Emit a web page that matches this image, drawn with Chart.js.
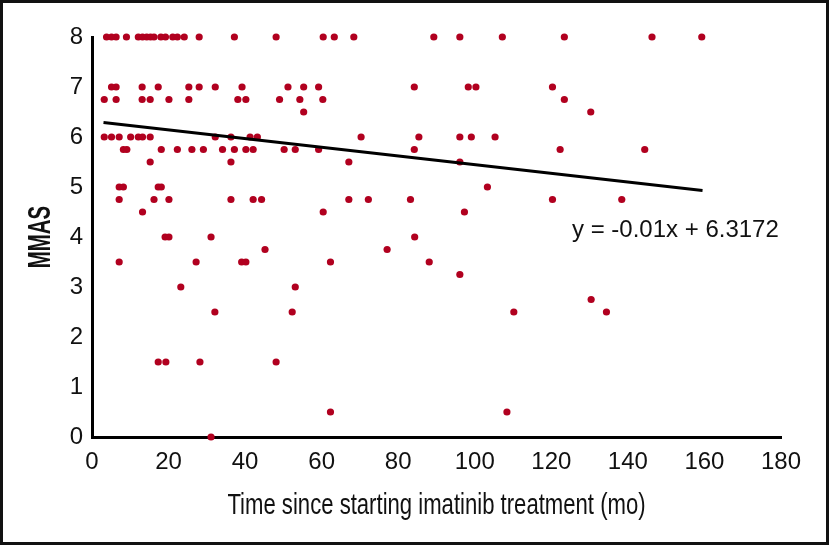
<!DOCTYPE html>
<html>
<head>
<meta charset="utf-8">
<script src="https://cdn.jsdelivr.net/npm/chart.js@4"></script>
<style>
  html, body { margin: 0; padding: 0; background: #fff; }
  #frame {
    position: absolute; left: 0; top: 0;
    width: 829px; height: 545px;
    box-sizing: border-box;
    border: 3px solid #111;
    background: #fff;
  }
  #chart { display: block; }
</style>
</head>
<body>
<div id="frame">
  <canvas id="chart" width="823" height="539"></canvas>
</div>
<script>
// MMAS score levels and the treatment months of the patients at each level
const scoreLevels = [8, 7, 6.75, 6.5, 6, 5.75, 5.5, 5, 4.75, 4.5, 4, 3.75, 3.5, 3.25, 3, 2.75, 2.5, 1.5, 0.5, 0];
const monthsAtLevel = [
    [3.8, 5.1, 6.3, 9.0, 12.1, 13.2, 14.3, 15.3, 16.2, 18.0, 19.2, 21.1, 22.3, 24.1, 28.0, 37.2, 48.1, 60.4, 63.3, 68.4, 89.3, 96.1, 107.2, 123.4, 146.3, 159.3],
    [5.1, 6.3, 13.1, 17.3, 25.3, 28.0, 32.2, 39.2, 51.2, 55.3, 59.2, 84.2, 98.3, 100.3, 120.3],
    [3.2, 6.3, 13.1, 15.2, 20.1, 25.3, 38.1, 40.2, 49.0, 54.3, 60.3, 123.4],
    [55.3, 130.3],
    [3.2, 5.1, 7.1, 10.1, 12.1, 13.2, 15.2, 32.2, 36.3, 41.3, 43.2, 70.3, 85.4, 96.1, 99.1, 105.3],
    [8.2, 9.1, 18.1, 22.3, 26.1, 29.1, 34.1, 37.2, 40.2, 42.1, 50.2, 53.1, 59.2, 84.2, 122.3, 144.4],
    [15.2, 36.3, 67.1, 96.1],
    [7.1, 8.2, 17.3, 18.1, 103.3],
    [7.1, 16.2, 20.1, 36.3, 42.1, 44.3, 67.1, 72.2, 83.2, 120.3, 138.4],
    [13.2, 60.4, 97.3],
    [19.1, 20.1, 31.1, 84.3],
    [45.2, 77.1],
    [7.1, 27.2, 39.1, 40.2, 62.3, 88.1],
    [96.1],
    [23.2, 53.1],
    [130.4],
    [32.1, 52.3, 110.2, 134.4],
    [17.3, 19.3, 28.2, 48.1],
    [62.3, 108.4],
    [31.1]
];

// trend line end points as drawn
const trendX = [3, 159.5];
const trendY = [6.29, 4.93];
const equationText = 'y = -0.01x + 6.3172';
const xTitle = 'Time since starting imatinib treatment (mo)';
const yTitle = 'MMAS';

const points = [];
scoreLevels.forEach((lvl, i) => {
    monthsAtLevel[i].forEach(m => points.push({ x: m, y: lvl }));
});
const trendPoints = trendX.map((x, i) => ({ x: x, y: trendY[i] }));

// equation + condensed axis titles (no condensed font installed, so squeeze them)
const extraText = {
    id: 'extraText',
    afterDatasetsDraw(chart) {
        const ctx = chart.ctx;
        const xs = chart.scales.x, ys = chart.scales.y;
        const area = chart.chartArea;
        ctx.save();
        ctx.fillStyle = '#111';
        ctx.textBaseline = 'alphabetic';

        ctx.font = '24px "Liberation Sans", Arial, sans-serif';
        ctx.textAlign = 'left';
        ctx.fillText(equationText, xs.getPixelForValue(125.4), ys.getPixelForValue(4.0));

        ctx.textAlign = 'center';
        ctx.save();
        ctx.translate((area.left + area.right) / 2, area.bottom + 77);
        ctx.scale(0.737, 1);
        ctx.font = '30px "Liberation Sans", Arial, sans-serif';
        ctx.fillText(xTitle, 0, 0);
        ctx.restore();

        ctx.save();
        ctx.translate(47, (area.top + area.bottom) / 2);
        ctx.rotate(-Math.PI / 2);
        ctx.scale(0.66, 1);
        ctx.font = 'bold 31px "Liberation Sans", Arial, sans-serif';
        ctx.fillText(yTitle, 0, 0);
        ctx.restore();

        ctx.restore();
    }
};

const ctx = document.getElementById('chart').getContext('2d');
new Chart(ctx, {
    type: 'scatter',
    data: {
        datasets: [{
            data: points,
            backgroundColor: '#b1001f',
            borderColor: '#b1001f',
            pointRadius: 3.6,
            pointHoverRadius: 3.6,
            borderWidth: 0,
            clip: false,
            order: 2
        }, {
            type: 'line',
            data: trendPoints,
            borderColor: '#000',
            borderWidth: 3,
            pointRadius: 0,
            fill: false,
            clip: false,
            order: 1
        }]
    },
    options: {
        responsive: false,
        animation: false,
        devicePixelRatio: 1,
        layout: { padding: { top: 34, right: 45, left: 0, bottom: 0 } },
        plugins: {
            legend: { display: false },
            tooltip: { enabled: false }
        },
        scales: {
            x: {
                type: 'linear',
                min: 0,
                max: 180,
                grid: { display: false, drawTicks: false },
                border: { display: true, color: '#000', width: 3 },
                ticks: {
                    stepSize: 20,
                    padding: 11,
                    color: '#111',
                    maxRotation: 0,
                    font: { family: '"Liberation Sans", Arial, sans-serif', size: 24 }
                },
                afterFit(scale) { scale.height = 105; }
            },
            y: {
                type: 'linear',
                min: 0,
                max: 8,
                grid: { display: false, drawTicks: false },
                border: { display: true, color: '#000', width: 3 },
                ticks: {
                    stepSize: 1,
                    padding: 9,
                    color: '#111',
                    font: { family: '"Liberation Sans", Arial, sans-serif', size: 24 }
                },
                afterFit(scale) { scale.width = 89; }
            }
        }
    },
    plugins: [extraText]
});
</script>
</body>
</html>
